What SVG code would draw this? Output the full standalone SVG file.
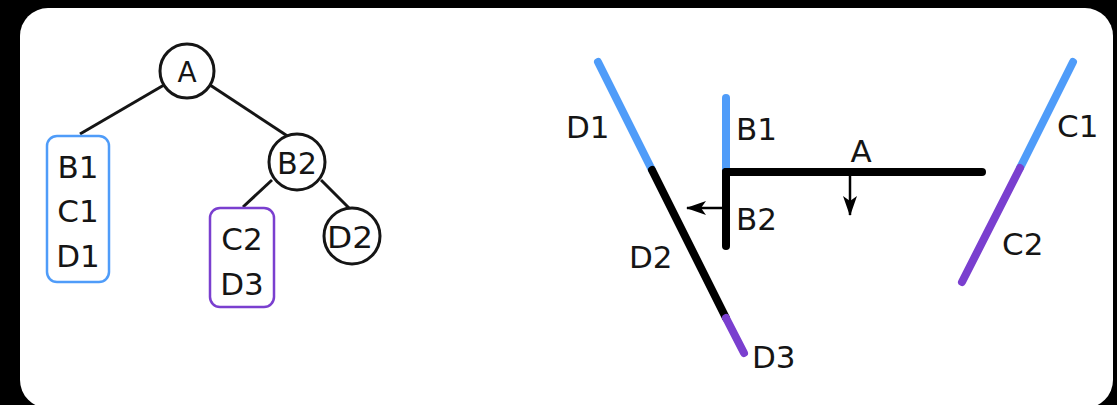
<svg xmlns="http://www.w3.org/2000/svg" width="1117" height="405" viewBox="0 0 1117 405">
<style>
  text { font-family: "DejaVu Sans", sans-serif; font-size: 31px; fill: #151515; }
  .mid { text-anchor: middle; }
  .circ { fill: #fff; stroke: #151515; stroke-width: 3; }
  .edge { stroke: #151515; stroke-width: 3; fill: none; }
  .seg { stroke-width: 8; stroke-linecap: round; fill: none; }
  .blue { stroke: #4f9cf9; }
  .black { stroke: #000; }
  .purple { stroke: #7a3fcf; }
  .thin { stroke: #000; stroke-width: 2.5; fill: none; }
</style>
<defs>
  <marker id="ah" viewBox="0 0 20 14" refX="19" refY="7" markerWidth="20" markerHeight="14" markerUnits="userSpaceOnUse" orient="auto">
    <path d="M0,0 L20,7 L0,14 L5,7 Z" fill="#000"/>
  </marker>
</defs>
<rect x="0" y="0" width="1117" height="405" fill="#000"/>
<rect x="20" y="8" width="1093" height="400" rx="28" ry="28" fill="#fff"/>

<g id="connectors">
  <line class="edge" x1="164" y1="85" x2="80" y2="134"/>
  <line class="edge" x1="210" y1="85" x2="292" y2="139"/>
  <line class="edge" x1="272" y1="180" x2="243" y2="207"/>
  <line class="edge" x1="321" y1="180" x2="349" y2="208"/>
</g>

<g id="node-A">
  <circle class="circ" cx="187" cy="71" r="27"/>
  <text class="mid" x="187" y="82" style="font-size:28px">A</text>
</g>
<g id="node-B1C1D1">
  <rect x="47" y="136" width="62" height="146" rx="10" fill="#fff" stroke="#4f9cf9" stroke-width="2.5"/>
  <text class="mid" x="78" y="178">B1</text>
  <text class="mid" x="78" y="222">C1</text>
  <text class="mid" x="78" y="267">D1</text>
</g>
<g id="node-B2">
  <circle class="circ" cx="297" cy="162" r="28"/>
  <text class="mid" x="297" y="174" textLength="40" lengthAdjust="spacingAndGlyphs" style="font-size:30px">B2</text>
</g>
<g id="node-C2D3">
  <rect x="210" y="208" width="64" height="99" rx="10" fill="#fff" stroke="#7a3fcf" stroke-width="2.5"/>
  <text class="mid" x="242" y="250">C2</text>
  <text class="mid" x="242" y="295">D3</text>
</g>
<g id="node-D2">
  <circle class="circ" cx="352" cy="236" r="28"/>
  <text class="mid" x="350" y="248" textLength="46" lengthAdjust="spacingAndGlyphs">D2</text>
</g>

<g id="geometry">
  <line class="seg blue" x1="598" y1="62" x2="652" y2="170"/>
  <line class="seg black" x1="652" y1="170" x2="726" y2="318"/>
  <line class="seg purple" x1="726" y1="318" x2="744" y2="353"/>
  <line class="seg blue" x1="726" y1="98" x2="726" y2="170"/>
  <line class="seg black" x1="726" y1="172" x2="726" y2="246"/>
  <line class="seg black" x1="726" y1="172" x2="982" y2="172"/>
  <line class="seg blue" x1="1073" y1="62" x2="1020" y2="168"/>
  <line class="seg purple" x1="1020" y1="168" x2="962" y2="282"/>
  <line class="thin" x1="722" y1="208" x2="687" y2="208" marker-end="url(#ah)"/>
  <line class="thin" x1="850" y1="176" x2="850" y2="215" marker-end="url(#ah)"/>
</g>

<g id="labels">
  <text x="566" y="138">D1</text>
  <text x="736" y="140">B1</text>
  <text x="736" y="230">B2</text>
  <text x="629" y="268">D2</text>
  <text x="752" y="368">D3</text>
  <text class="mid" x="861" y="162">A</text>
  <text x="1057" y="137">C1</text>
  <text x="1002" y="255">C2</text>
</g>
</svg>
